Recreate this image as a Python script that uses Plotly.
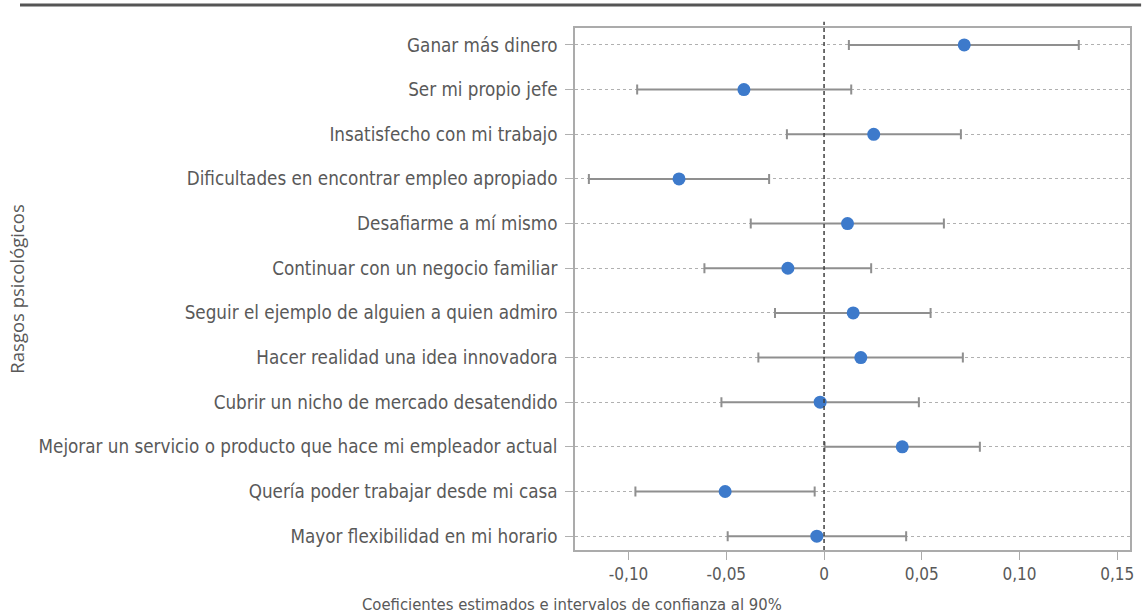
import plotly.graph_objects as go

# Motivaciones (de arriba hacia abajo)
categorias = [
    "Ganar más dinero",
    "Ser mi propio jefe",
    "Insatisfecho con mi trabajo",
    "Dificultades en encontrar empleo apropiado",
    "Desafiarme a mí mismo",
    "Continuar con un negocio familiar",
    "Seguir el ejemplo de alguien a quien admiro",
    "Hacer realidad una idea innovadora",
    "Cubrir un nicho de mercado desatendido",
    "Mejorar un servicio o producto que hace mi empleador actual",
    "Quería poder trabajar desde mi casa",
    "Mayor flexibilidad en mi horario",
]
coeficientes = [0.0717, -0.0410, 0.0254, -0.0742, 0.0120, -0.0185,
                0.0149, 0.0188, -0.0020, 0.0400, -0.0506, -0.0037]
ic_inferior = [0.0127, -0.0956, -0.0190, -0.1203, -0.0375, -0.0612,
               -0.0251, -0.0336, -0.0525, 0.0003, -0.0965, -0.0493]
ic_superior = [0.1303, 0.0139, 0.0700, -0.0281, 0.0613, 0.0241,
               0.0545, 0.0710, 0.0485, 0.0797, -0.0048, 0.0420]

ticks_x = [-0.10, -0.05, 0, 0.05, 0.10, 0.15]
etiquetas_x = ["-0,10", "-0,05", "0", "0,05", "0,10", "0,15"]

err_mas = [s - c for s, c in zip(ic_superior, coeficientes)]
err_menos = [c - i for c, i in zip(coeficientes, ic_inferior)]

fuente = "DejaVu Sans Condensed, Liberation Sans Narrow, sans-serif"

fig = go.Figure()
fig.add_trace(
    go.Scatter(
        x=coeficientes,
        y=categorias,
        mode="markers",
        marker=dict(color="#3d7acb", size=13),
        error_x=dict(
            type="data",
            array=err_mas,
            arrayminus=err_menos,
            color="#8f8f8f",
            thickness=2,
            width=5,
        ),
        showlegend=False,
    )
)

# linea vertical en cero
fig.add_shape(
    type="line", xref="x", yref="paper", x0=0, x1=0, y0=0, y1=1.012,
    line=dict(color="#404040", width=1.5, dash="4px,3px"),
)
# linea superior decorativa
fig.add_shape(
    type="line", xref="paper", yref="paper", x0=-1.0, x1=1.02, y0=1.044, y1=1.044,
    line=dict(color="#555555", width=3),
)

# titulos de ejes como anotaciones (x centrado en la figura completa)
fig.add_annotation(
    text="Coeficientes estimados e intervalos de confianza al 90%",
    xref="paper", yref="paper", x=-0.006, y=-0.104,
    xanchor="center", yanchor="middle", showarrow=False,
    font=dict(family=fuente, size=16.5, color="#595959"),
)
fig.add_annotation(
    text="Rasgos psicológicos",
    xref="paper", yref="paper", x=-1.007, y=0.499, textangle=-90,
    xanchor="center", yanchor="middle", showarrow=False,
    font=dict(family="Open Sans, sans-serif", size=18.5, color="#595959"),
)

fig.update_layout(
    width=1143,
    height=613,
    margin=dict(l=575, r=9, t=28, b=63),
    plot_bgcolor="white",
    paper_bgcolor="white",
    font=dict(family=fuente, color="#595959", size=18),
)
fig.update_xaxes(
    range=[-0.1274, 0.1565],
    tickvals=ticks_x,
    ticktext=etiquetas_x,
    showgrid=False,
    zeroline=False,
    showline=True,
    linecolor="#ababab",
    linewidth=1.5,
    mirror=True,
    ticks="outside",
    ticklen=8,
    tickcolor="#ababab",
    tickfont=dict(size=17, color="#595959"),
)
fig.update_yaxes(
    type="category",
    categoryorder="array",
    categoryarray=categorias,
    range=[11.31, -0.38],
    showgrid=True,
    gridcolor="#b0b0b0",
    griddash="3px,3px",
    gridwidth=1,
    zeroline=False,
    showline=True,
    linecolor="#ababab",
    linewidth=1.5,
    mirror=True,
    ticks="outside",
    ticklen=8,
    tickcolor="#b0b0b0",
    ticklabelstandoff=4,
    tickfont=dict(size=18.7, color="#595959"),
)

fig.write_html(
    "out.html",
    config={"displayModeBar": False},
    post_script="document.body.style.margin='0';",
)
